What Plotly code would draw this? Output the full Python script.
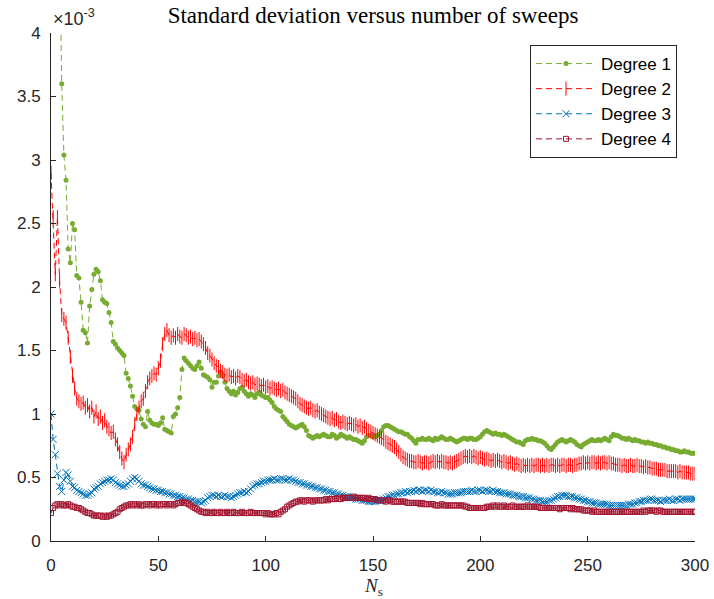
import plotly.graph_objects as go

# Number of sweeps
n_sweeps = list(range(0, 301))

# Standard deviation (in units of 1e-3) for each polynomial degree
std_degree1 = [
    8.0, 6.6, 5.6, 5.0, 4.7, 3.6, 3.04, 2.84, 2.30, 2.19,
    2.50, 2.45, 2.09, 2.07, 1.88, 1.66, 1.64, 1.56, 1.85, 1.98,
    2.10, 2.14, 2.12, 2.05, 1.90, 1.88, 1.87, 1.80, 1.72, 1.57,
    1.55, 1.52, 1.50, 1.48, 1.46, 1.32, 1.28, 1.22, 1.14, 1.06,
    1.04, 1.03, 0.96, 0.92, 0.90, 1.02, 0.95, 0.93, 0.92, 0.92,
    0.91, 0.93, 0.97, 0.88, 0.87, 0.86, 0.85, 0.98, 1.00, 1.05,
    1.13, 1.35, 1.44, 1.42, 1.40, 1.38, 1.36, 1.35, 1.38, 1.41,
    1.36, 1.31, 1.30, 1.29, 1.27, 1.21, 1.25, 1.25, 1.30, 1.33,
    1.30, 1.25, 1.20, 1.18, 1.16, 1.18, 1.15, 1.17, 1.20, 1.21,
    1.18, 1.16, 1.14, 1.16, 1.15, 1.13, 1.16, 1.17, 1.15, 1.14,
    1.13, 1.13, 1.11, 1.09, 1.06, 1.04, 1.03, 1.02, 0.98, 0.96,
    0.94, 0.92, 0.91, 0.90, 0.89, 0.90, 0.91, 0.92, 0.90, 0.87,
    0.83, 0.82, 0.81, 0.82, 0.83, 0.82, 0.83, 0.84, 0.83, 0.82,
    0.82, 0.84, 0.83, 0.81, 0.82, 0.84, 0.83, 0.82, 0.81, 0.82,
    0.81, 0.80, 0.80, 0.79, 0.78, 0.77, 0.79, 0.82, 0.83, 0.83,
    0.82, 0.82, 0.83, 0.84, 0.87, 0.90, 0.91, 0.91, 0.90, 0.89,
    0.88, 0.87, 0.86, 0.86, 0.85, 0.84, 0.84, 0.82, 0.81, 0.79,
    0.77, 0.80, 0.80, 0.81, 0.80, 0.80, 0.81, 0.80, 0.79, 0.81,
    0.80, 0.81, 0.82, 0.81, 0.80, 0.80, 0.81, 0.80, 0.79, 0.78,
    0.79, 0.80, 0.81, 0.81, 0.80, 0.81, 0.81, 0.80, 0.80, 0.81,
    0.82, 0.84, 0.86, 0.87, 0.86, 0.85, 0.84, 0.85, 0.84, 0.84,
    0.83, 0.84, 0.83, 0.82, 0.81, 0.80, 0.79, 0.78, 0.78, 0.77,
    0.76, 0.79, 0.80, 0.80, 0.81, 0.80, 0.80, 0.79, 0.79, 0.78,
    0.77, 0.75, 0.73, 0.72, 0.74, 0.76, 0.78, 0.79, 0.80, 0.79,
    0.78, 0.79, 0.80, 0.79, 0.78, 0.76, 0.75, 0.74, 0.76, 0.77,
    0.78, 0.79, 0.80, 0.79, 0.79, 0.80, 0.79, 0.80, 0.81, 0.80,
    0.79, 0.82, 0.84, 0.83, 0.83, 0.82, 0.81, 0.81, 0.80, 0.81,
    0.80, 0.79, 0.80, 0.79, 0.79, 0.78, 0.78, 0.77, 0.78, 0.77,
    0.77, 0.76, 0.76, 0.75, 0.75, 0.74, 0.74, 0.73, 0.73, 0.72,
    0.72, 0.71, 0.71, 0.70, 0.70, 0.71, 0.70, 0.70, 0.69, 0.69,
    0.69,
]

std_degree2 = [
    2.90, 2.55, 2.10, 2.55, 2.05, 1.78, 1.75, 1.72, 1.60, 1.45,
    1.30, 1.20, 1.12, 1.10, 1.08, 1.09, 1.05, 1.07, 1.02, 1.05,
    0.98, 1.02, 0.96, 0.98, 0.93, 0.95, 0.90, 0.88, 0.85, 0.86,
    0.80, 0.76, 0.70, 0.65, 0.62, 0.68, 0.72, 0.76, 0.82, 0.92,
    1.00, 1.05, 1.10, 1.12, 1.18, 1.25, 1.28, 1.30, 1.32, 1.31,
    1.36, 1.42, 1.55, 1.63, 1.66, 1.62, 1.60, 1.62, 1.60, 1.63,
    1.61, 1.60, 1.63, 1.62, 1.60, 1.61, 1.59, 1.60, 1.58, 1.59,
    1.57, 1.55, 1.52, 1.48, 1.46, 1.43, 1.40, 1.38, 1.37, 1.34,
    1.33, 1.31, 1.30, 1.31, 1.29, 1.30, 1.28, 1.30, 1.29, 1.27,
    1.26, 1.27, 1.25, 1.24, 1.25, 1.23, 1.24, 1.23, 1.22, 1.23,
    1.21, 1.22, 1.20, 1.21, 1.20, 1.19, 1.20, 1.18, 1.19, 1.17,
    1.16, 1.15, 1.14, 1.13, 1.12, 1.10, 1.08, 1.07, 1.06, 1.05,
    1.04, 1.05, 1.03, 1.02, 1.03, 1.01, 1.00, 0.99, 0.98, 0.97,
    0.96, 0.97, 0.95, 0.96, 0.94, 0.93, 0.94, 0.93, 0.92, 0.93,
    0.92, 0.91, 0.92, 0.90, 0.91, 0.89, 0.90, 0.88, 0.87, 0.86,
    0.85, 0.84, 0.83, 0.82, 0.81, 0.80, 0.78, 0.77, 0.76, 0.75,
    0.74, 0.72, 0.70, 0.68, 0.66, 0.65, 0.64, 0.63, 0.63, 0.62,
    0.62, 0.63, 0.62, 0.61, 0.62, 0.62, 0.61, 0.62, 0.63, 0.62,
    0.63, 0.62, 0.63, 0.62, 0.62, 0.61, 0.62, 0.61, 0.62, 0.63,
    0.64, 0.65, 0.66, 0.67, 0.66, 0.67, 0.66, 0.67, 0.66, 0.65,
    0.66, 0.65, 0.64, 0.65, 0.64, 0.63, 0.64, 0.63, 0.64, 0.63,
    0.62, 0.63, 0.62, 0.61, 0.62, 0.61, 0.60, 0.61, 0.60, 0.59,
    0.60, 0.59, 0.60, 0.59, 0.60, 0.59, 0.60, 0.60, 0.59, 0.60,
    0.59, 0.60, 0.59, 0.60, 0.60, 0.59, 0.60, 0.59, 0.60, 0.60,
    0.59, 0.60, 0.60, 0.59, 0.60, 0.60, 0.61, 0.61, 0.62, 0.61,
    0.62, 0.61, 0.62, 0.62, 0.61, 0.62, 0.61, 0.62, 0.62, 0.61,
    0.62, 0.61, 0.61, 0.60, 0.60, 0.60, 0.59, 0.60, 0.59, 0.59,
    0.60, 0.59, 0.59, 0.60, 0.59, 0.59, 0.58, 0.59, 0.58, 0.58,
    0.57, 0.57, 0.57, 0.56, 0.56, 0.56, 0.56, 0.55, 0.55, 0.55,
    0.55, 0.55, 0.54, 0.55, 0.54, 0.54, 0.54, 0.54, 0.53, 0.53,
    0.53,
]

std_degree3 = [
    1.00, 0.80, 0.68, 0.53, 0.43, 0.39, 0.48, 0.54, 0.52, 0.47,
    0.43, 0.42, 0.40, 0.39, 0.38, 0.37, 0.36, 0.36, 0.37, 0.38,
    0.41, 0.42, 0.43, 0.45, 0.46, 0.47, 0.48, 0.48, 0.49, 0.48,
    0.46, 0.45, 0.44, 0.43, 0.43, 0.44, 0.45, 0.47, 0.49, 0.50,
    0.49, 0.47, 0.45, 0.44, 0.44, 0.43, 0.42, 0.41, 0.41, 0.40,
    0.40, 0.39, 0.39, 0.38, 0.38, 0.37, 0.37, 0.36, 0.36, 0.35,
    0.35, 0.34, 0.34, 0.33, 0.33, 0.32, 0.32, 0.31, 0.31, 0.31,
    0.30, 0.31, 0.32, 0.34, 0.35, 0.36, 0.36, 0.35, 0.36, 0.35,
    0.35, 0.36, 0.35, 0.35, 0.34, 0.35, 0.36, 0.37, 0.38, 0.38,
    0.39, 0.38, 0.39, 0.41, 0.43, 0.44, 0.45, 0.45, 0.46, 0.47,
    0.47, 0.48, 0.48, 0.48, 0.49, 0.48, 0.48, 0.49, 0.49, 0.48,
    0.48, 0.49, 0.48, 0.48, 0.47, 0.46, 0.46, 0.45, 0.45, 0.44,
    0.44, 0.43, 0.43, 0.42, 0.42, 0.41, 0.41, 0.40, 0.40, 0.39,
    0.39, 0.38, 0.38, 0.37, 0.37, 0.36, 0.36, 0.35, 0.35, 0.34,
    0.34, 0.34, 0.33, 0.33, 0.33, 0.32, 0.32, 0.32, 0.31, 0.31,
    0.31, 0.31, 0.32, 0.32, 0.32, 0.33, 0.34, 0.35, 0.35, 0.36,
    0.36, 0.37, 0.37, 0.38, 0.38, 0.39, 0.38, 0.39, 0.39, 0.40,
    0.39, 0.40, 0.40, 0.39, 0.40, 0.40, 0.39, 0.40, 0.39, 0.39,
    0.38, 0.38, 0.39, 0.38, 0.38, 0.37, 0.37, 0.37, 0.38, 0.38,
    0.38, 0.38, 0.39, 0.39, 0.39, 0.39, 0.40, 0.39, 0.39, 0.40,
    0.40, 0.39, 0.40, 0.40, 0.39, 0.39, 0.40, 0.39, 0.39, 0.38,
    0.38, 0.38, 0.37, 0.37, 0.37, 0.36, 0.36, 0.36, 0.35, 0.35,
    0.35, 0.34, 0.34, 0.34, 0.33, 0.33, 0.32, 0.32, 0.32, 0.31,
    0.31, 0.31, 0.32, 0.32, 0.33, 0.34, 0.35, 0.35, 0.36, 0.36,
    0.36, 0.35, 0.35, 0.35, 0.34, 0.34, 0.33, 0.33, 0.32, 0.32,
    0.31, 0.31, 0.30, 0.30, 0.30, 0.29, 0.29, 0.29, 0.29, 0.29,
    0.28, 0.28, 0.28, 0.28, 0.28, 0.28, 0.28, 0.28, 0.28, 0.29,
    0.29, 0.29, 0.30, 0.30, 0.31, 0.31, 0.32, 0.32, 0.32, 0.33,
    0.33, 0.32, 0.32, 0.32, 0.31, 0.32, 0.32, 0.32, 0.33, 0.32,
    0.32, 0.33, 0.33, 0.32, 0.33, 0.33, 0.33, 0.33, 0.33, 0.33,
    0.33,
]

std_degree4 = [
    0.22, 0.26, 0.28, 0.29, 0.28, 0.29, 0.28, 0.28, 0.29, 0.28,
    0.27, 0.27, 0.26, 0.26, 0.25, 0.24, 0.23, 0.22, 0.22, 0.21,
    0.20, 0.20, 0.20, 0.20, 0.19, 0.20, 0.19, 0.20, 0.20, 0.21,
    0.22, 0.23, 0.25, 0.26, 0.27, 0.28, 0.28, 0.29, 0.28, 0.29,
    0.28, 0.29, 0.28, 0.28, 0.29, 0.29, 0.28, 0.29, 0.29, 0.28,
    0.29, 0.28, 0.29, 0.29, 0.28, 0.29, 0.29, 0.28, 0.29, 0.30,
    0.30, 0.31, 0.30, 0.30, 0.29, 0.28, 0.27, 0.26, 0.25, 0.24,
    0.23, 0.23, 0.22, 0.23, 0.22, 0.22, 0.23, 0.22, 0.22, 0.23,
    0.22, 0.22, 0.23, 0.22, 0.22, 0.23, 0.22, 0.22, 0.22, 0.23,
    0.22, 0.22, 0.22, 0.23, 0.22, 0.22, 0.22, 0.22, 0.22, 0.22,
    0.21, 0.22, 0.21, 0.21, 0.21, 0.22, 0.21, 0.23, 0.24, 0.25,
    0.27, 0.28, 0.29, 0.30, 0.31, 0.31, 0.32, 0.32, 0.31, 0.32,
    0.32, 0.32, 0.31, 0.32, 0.32, 0.32, 0.32, 0.32, 0.33, 0.32,
    0.33, 0.33, 0.33, 0.34, 0.33, 0.33, 0.34, 0.34, 0.34, 0.34,
    0.34, 0.35, 0.34, 0.34, 0.34, 0.34, 0.34, 0.33, 0.34, 0.33,
    0.33, 0.33, 0.32, 0.32, 0.32, 0.32, 0.31, 0.32, 0.32, 0.31,
    0.31, 0.31, 0.31, 0.31, 0.31, 0.31, 0.30, 0.30, 0.30, 0.30,
    0.30, 0.30, 0.29, 0.30, 0.29, 0.29, 0.29, 0.29, 0.29, 0.28,
    0.28, 0.28, 0.29, 0.28, 0.28, 0.28, 0.28, 0.28, 0.28, 0.28,
    0.28, 0.28, 0.28, 0.27, 0.27, 0.26, 0.26, 0.26, 0.26, 0.26,
    0.26, 0.26, 0.26, 0.27, 0.27, 0.27, 0.28, 0.27, 0.28, 0.27,
    0.27, 0.28, 0.27, 0.27, 0.27, 0.28, 0.27, 0.27, 0.27, 0.27,
    0.27, 0.27, 0.28, 0.27, 0.27, 0.27, 0.27, 0.27, 0.26, 0.26,
    0.26, 0.26, 0.26, 0.26, 0.26, 0.26, 0.26, 0.25, 0.26, 0.26,
    0.26, 0.26, 0.25, 0.26, 0.25, 0.25, 0.25, 0.25, 0.24, 0.24,
    0.24, 0.24, 0.23, 0.24, 0.23, 0.23, 0.23, 0.23, 0.23, 0.23,
    0.23, 0.23, 0.23, 0.23, 0.23, 0.23, 0.23, 0.23, 0.23, 0.23,
    0.23, 0.23, 0.23, 0.23, 0.23, 0.23, 0.24, 0.23, 0.24, 0.24,
    0.24, 0.24, 0.23, 0.24, 0.24, 0.23, 0.23, 0.23, 0.23, 0.23,
    0.23, 0.23, 0.23, 0.23, 0.23, 0.23, 0.23, 0.23, 0.23, 0.23,
    0.23,
]

series_names = ["Degree 1", "Degree 2", "Degree 3", "Degree 4"]
y_ticks = [0, 0.5, 1, 1.5, 2, 2.5, 3, 3.5, 4]
x_ticks = [0, 50, 100, 150, 200, 250, 300]

AXIS_COLOR = "#262626"
SANS = "Liberation Sans, Arial, sans-serif"
SERIF = "Liberation Serif, Times New Roman, serif"

GREEN, RED, BLUE, CRIMSON = "#77AC30", "#FF0000", "#0072BD", "#A2142F"
styles = [
    dict(color=GREEN, marker=dict(symbol="circle", size=5, color=GREEN, line=dict(width=0))),
    dict(color=RED, marker=dict(symbol="line-ns", size=10, color=RED, line=dict(color=RED, width=1))),
    dict(color=BLUE, marker=dict(symbol="x-thin", size=7, color=BLUE, line=dict(color=BLUE, width=1))),
    dict(color=CRIMSON, marker=dict(symbol="square-open", size=5, color=CRIMSON, line=dict(color=CRIMSON, width=1))),
]

fig = go.Figure()
for name, values, st in zip(series_names, [std_degree1, std_degree2, std_degree3, std_degree4], styles):
    fig.add_trace(go.Scatter(
        x=n_sweeps, y=values, name=name, mode="lines+markers",
        line=dict(color=st["color"], width=1, dash="6px,4px"),
        marker=st["marker"],
    ))

axis_common = dict(
    showgrid=False, zeroline=False, showline=True, linecolor=AXIS_COLOR, linewidth=1,
    ticks="inside", ticklen=5, tickwidth=1, tickcolor=AXIS_COLOR, mirror=False,
    automargin=False,
    tickfont=dict(family=SANS, size=17, color=AXIS_COLOR),
)

fig.update_layout(
    template="none",
    width=714, height=599,
    margin=dict(l=51, r=19, t=33, b=58, autoexpand=False),
    paper_bgcolor="white", plot_bgcolor="white",
    title=dict(
        text="Standard deviation versus number of sweeps",
        font=dict(family=SERIF, size=23, color="black"),
        x=(51 + 695) / 2 / 714, xanchor="center",
        y=1 - 15 / 599, yanchor="middle", yref="container",
    ),
    xaxis=dict(range=[0, 300], tickvals=x_ticks, ticktext=[str(v) for v in x_ticks],
               ticklabelstandoff=9, **axis_common),
    yaxis=dict(range=[0, 4], tickvals=y_ticks, ticktext=[f"{v:g}" for v in y_ticks],
               ticklabelstandoff=6, **axis_common),
    legend=dict(
        x=(530 - 51) / 644, y=1 - (45 - 33) / 508, xanchor="left", yanchor="top",
        bgcolor="white", bordercolor=AXIS_COLOR, borderwidth=1,
        font=dict(family=SANS, size=17, color="black"),
        tracegroupgap=0, itemwidth=60,
    ),
    showlegend=True,
)

# Exponent multiplier above the y axis
fig.add_annotation(
    text="×10<sup>-3</sup>", xref="paper", yref="paper", x=0, y=1,
    xanchor="left", yanchor="bottom", showarrow=False, yshift=2,
    font=dict(family=SANS, size=18, color=AXIS_COLOR),
)

# x-axis label
fig.add_annotation(
    text="<i>N</i><sub>s</sub>", xref="paper", yref="paper", x=0.5, y=-(587 - 541) / 508,
    xanchor="center", yanchor="middle", showarrow=False,
    font=dict(family=SERIF, size=19, color=AXIS_COLOR),
)

fig.write_html("out.html")
